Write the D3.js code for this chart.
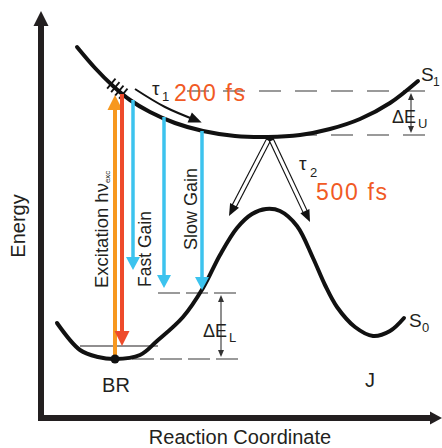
<!DOCTYPE html>
<html><head><meta charset="utf-8">
<script src="https://cdn.jsdelivr.net/npm/d3@7"></script>
<style>
body{margin:0;background:#fff;}
svg{display:block;font-family:"Liberation Sans",Arial,Helvetica,sans-serif;}
</style>
</head><body>
<svg id="c" width="442" height="448"></svg>
<script>
// ---- data (reaction coordinate / energy, arbitrary units 0-400) ----
const s1Reaction = [36,54,72,89,109,134,162,194,227,259,289,319,349,377];
const s1Energy   = [371,350,332,318,306,295,287,282,281,283,289,299,315,337];
const s0Reaction = [16,39,57,74,99,116,142,162,179,196,211,225,239,256,272,284,296,314,332,349,363];
const s0Energy   = [95,68,61,59,63,77,101,130,163,190,204,209,207,192,160,133,111,91,82,87,100];

const transitionNames    = ["Excitation","Stimulated","Fast Gain","Gain","Slow Gain"];
const transitionReaction = [74,81,92,123,161];
const transitionFrom     = [59,324,318,301,287];
const transitionTo       = [323,72,148,130,128];

const levelEnergy = [327,283,125,59];
const levelFrom   = [146,254,117,91];
const levelTo     = [384,384,197,197];

const gapLabels   = ["U","L"];
const gapReaction = [370,180];
const gapTop      = [327,125];
const gapBottom   = [283,59];

const tickReaction = [70,74,78,82];
const tickEnergy   = [334,330.5,327,324];

const tau1Reaction = [94,124,157];
const tau1Energy   = [329,311,297];

const tau2Start    = [229,281];
const tau2EndsReaction = [188,269];
const tau2EndsEnergy   = [202,196];

const stateLabels = ["BR","J"];
const stateReaction = [75,329];

// ---- setup ----
const svg = d3.select("#c");
const x = d3.scaleLinear().domain([0,400]).range([41,441]);
const y = d3.scaleLinear().domain([0,400]).range([418,18]);
const ink = "#231f20";
const colors = {"Excitation":"#F7981F","Stimulated":"#EE4B2B","Fast Gain":"#3CC3EE","Gain":"#3CC3EE","Slow Gain":"#3CC3EE"};
const labelOrange = "#F15A24";

function head(g, tip, from, len, hw, fill){
  const dx=tip[0]-from[0], dy=tip[1]-from[1], L=Math.hypot(dx,dy);
  const ux=dx/L, uy=dy/L, bx=tip[0]-ux*len, by=tip[1]-uy*len;
  g.append("polygon")
    .attr("points",[[tip[0],tip[1]],[bx-uy*hw,by+ux*hw],[bx+uy*hw,by-ux*hw]].map(p=>p.join(",")).join(" "))
    .attr("fill",fill);
}

// ---- axes ----
const axisPts = [[0,400],[0,0],[395,0]];
svg.append("path")
  .attr("d", d3.line().x(d=>x(d[0])).y(d=>y(d[1]))(axisPts))
  .attr("fill","none").attr("stroke",ink).attr("stroke-width",6)
  .attr("stroke-linejoin","miter").attr("stroke-linecap","butt");
head(svg,[x(0),y(400)-7],[x(0),y(0)],15,7.5,ink);
head(svg,[x(400)+1,y(0)],[x(0),y(0)],12,6.5,ink);

svg.append("text").attr("transform",`translate(25,${(y(0)+y(400))/2+8}) rotate(-90)`)
  .attr("text-anchor","middle").attr("font-size",20).attr("fill",ink).text("Energy");
svg.append("text").attr("x",240).attr("y",444).attr("text-anchor","middle")
  .attr("font-size",20).attr("fill",ink).text("Reaction Coordinate");

// ---- dashed levels ----
const dashes = ["22,14","22,14","22,6","22,6"];
levelEnergy.forEach((e,i)=>{
  svg.append("line").attr("x1",x(levelFrom[i])).attr("x2",x(levelTo[i]))
    .attr("y1",y(e)).attr("y2",y(e))
    .attr("stroke","#9a9a9a").attr("stroke-width",2).attr("stroke-dasharray",dashes[i]);
});

// thin reference line at BR
svg.append("line").attr("x1",x(39)).attr("x2",x(117)).attr("y1",y(72)).attr("y2",y(72))
  .attr("stroke",ink).attr("stroke-width",1.2);

// ---- energy gaps ----
gapLabels.forEach((lab,i)=>{
  const gx=x(gapReaction[i]), t=y(gapTop[i]), b=y(gapBottom[i]);
  const g=svg.append("g");
  g.append("line").attr("x1",gx).attr("x2",gx).attr("y1",t+6).attr("y2",b-6)
    .attr("stroke","#333").attr("stroke-width",1.1);
  head(g,[gx,t+2],[gx,b],7,3,"#333");
  head(g,[gx,b-2],[gx,t],7,3,"#333");
});
svg.append("text").attr("x",392).attr("y",123).attr("font-size",18).attr("fill",ink).text("ΔE");
svg.append("text").attr("x",418).attr("y",128).attr("font-size",13).attr("fill",ink).text("U");
svg.append("text").attr("x",203).attr("y",337).attr("font-size",18).attr("fill",ink).text("ΔE");
svg.append("text").attr("x",229).attr("y",342).attr("font-size",13).attr("fill",ink).text("L");

// ---- potential curves ----
const line = d3.line().x(d=>x(d[0])).y(d=>y(d[1])).curve(d3.curveCatmullRom.alpha(0.5));
svg.append("path").attr("d",line(s1Reaction.map((r,i)=>[r,s1Energy[i]])))
  .attr("fill","none").attr("stroke","#111").attr("stroke-width",4).attr("stroke-linecap","round");
svg.append("path").attr("d",line(s0Reaction.map((r,i)=>[r,s0Energy[i]])))
  .attr("fill","none").attr("stroke","#111").attr("stroke-width",4).attr("stroke-linecap","round");

// ticks on S1
tickReaction.forEach((r,i)=>{
  const cx=x(r), cy=y(tickEnergy[i]);
  const nx=0.64, ny=-0.77;
  svg.append("line").attr("x1",cx-nx*6).attr("y1",cy-ny*6).attr("x2",cx+nx*7).attr("y2",cy+ny*7)
    .attr("stroke","#111").attr("stroke-width",1.8);
});

// ---- vertical transitions ----
transitionNames.forEach((n,i)=>{
  const tx=x(transitionReaction[i]), y0=y(transitionFrom[i]), y1=y(transitionTo[i]);
  const dir = y1>y0?1:-1;
  const isBlue = i>=2;
  const len = isBlue?13:15, hw = isBlue?7:7.5;
  svg.append("line").attr("x1",tx).attr("x2",tx).attr("y1",y0).attr("y2",y1-dir*(len-2))
    .attr("stroke",colors[n]).attr("stroke-width",isBlue?3.5:4);
  head(svg,[tx,y1],[tx,y0],len,hw,colors[n]);
});

// BR dot
svg.append("circle").attr("cx",x(74)).attr("cy",y(59)).attr("r",4.5).attr("fill","#111");

// ---- tau1 arrow ----
{
  const pts = tau1Reaction.map((r,i)=>[x(r),y(tau1Energy[i])]);
  svg.append("path").attr("d",d3.line().curve(d3.curveCatmullRom)(pts))
    .attr("fill","none").attr("stroke","#111").attr("stroke-width",2);
  const a=pts[pts.length-2], b=pts[pts.length-1];
  const dx=b[0]-a[0], dy=b[1]-a[1], L=Math.hypot(dx,dy);
  head(svg,[b[0]+dx/L*4,b[1]+dy/L*4],a,13,5.5,"#111");
}
svg.append("text").attr("x",152).attr("y",95).attr("font-size",19).attr("fill",ink).text("τ");
svg.append("text").attr("x",162).attr("y",101).attr("font-size",13).attr("fill",ink).text("1");
svg.append("text").attr("x",174).attr("y",101).attr("font-size",23).attr("fill",labelOrange)
  .attr("textLength",71).attr("lengthAdjust","spacing").text("200 fs");

// ---- tau2 hollow arrows ----
tau2EndsReaction.forEach((r,i)=>{
  const s=[x(tau2Start[0]),y(tau2Start[1])], e=[x(r),y(tau2EndsEnergy[i])];
  const dx=e[0]-s[0], dy=e[1]-s[1], L=Math.hypot(dx,dy), ux=dx/L, uy=dy/L;
  const base=[e[0]-ux*10,e[1]-uy*10];
  svg.append("line").attr("x1",s[0]).attr("y1",s[1]).attr("x2",base[0]).attr("y2",base[1])
    .attr("stroke","#111").attr("stroke-width",5.5);
  svg.append("line").attr("x1",s[0]+ux*4).attr("y1",s[1]+uy*4).attr("x2",base[0]-ux*1).attr("y2",base[1]-uy*1)
    .attr("stroke","#fff").attr("stroke-width",3.3);
  head(svg,e,s,12,5,"#111");
});
svg.append("text").attr("x",299).attr("y",170).attr("font-size",19).attr("fill",ink).text("τ");
svg.append("text").attr("x",310).attr("y",177).attr("font-size",13).attr("fill",ink).text("2");
svg.append("text").attr("x",316).attr("y",200).attr("font-size",23).attr("fill",labelOrange)
  .attr("textLength",71).attr("lengthAdjust","spacing").text("500 fs");

// ---- rotated transition labels ----
const ex = svg.append("text").attr("transform","translate(108,288) rotate(-90)")
  .attr("font-size",18.5).attr("fill",ink);
ex.append("tspan").text("Excitation hν");
ex.append("tspan").attr("font-size",8).attr("dy",2).text("exc");
svg.append("text").attr("transform","translate(151,287) rotate(-90)")
  .attr("font-size",17.5).attr("fill",ink).text("Fast Gain");
svg.append("text").attr("transform","translate(197,250) rotate(-90)")
  .attr("font-size",18).attr("fill",ink).text("Slow Gain");

// ---- state labels ----
svg.append("text").attr("x",x(stateReaction[0])).attr("y",392).attr("text-anchor","middle")
  .attr("font-size",20).attr("fill",ink).text(stateLabels[0]);
svg.append("text").attr("x",x(stateReaction[1])).attr("y",387).attr("text-anchor","middle")
  .attr("font-size",20).attr("fill",ink).text(stateLabels[1]);

svg.append("text").attr("x",421).attr("y",81).attr("font-size",19).attr("fill",ink).text("S");
svg.append("text").attr("x",433).attr("y",86).attr("font-size",12).attr("fill",ink).text("1");
svg.append("text").attr("x",409).attr("y",327).attr("font-size",19).attr("fill",ink).text("S");
svg.append("text").attr("x",422).attr("y",332).attr("font-size",13).attr("fill",ink).text("0");
</script>
</body></html>
